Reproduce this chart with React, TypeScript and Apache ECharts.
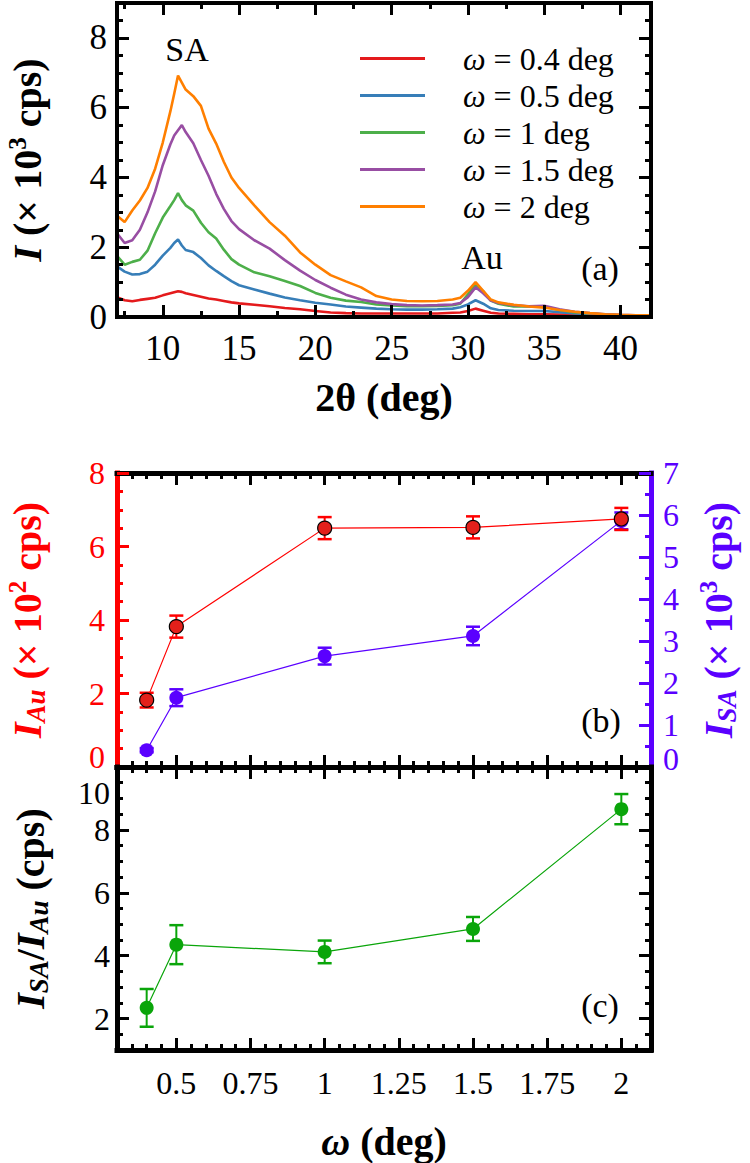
import React, { useEffect, useRef } from 'react';
import * as echarts from 'echarts';

const FONT = "'Liberation Serif', serif";

// ---------- Panel (a): XRD intensity, I (x10^3 cps) vs 2theta (deg) ----------
const twoTheta = [7, 7.5, 8, 8.5, 9, 9.5, 10, 10.5, 10.75, 11, 11.25, 11.5, 12, 12.5, 13, 13.5, 14, 14.5, 15, 16, 17, 18, 19, 20, 21, 22, 23, 24, 25, 26, 27, 28, 29, 29.5, 30, 30.5, 31, 31.5, 32, 33, 34, 35, 36, 37, 38, 39, 40, 41, 42];
const iOmega04 = [0.57, 0.48, 0.45, 0.49, 0.52, 0.55, 0.62, 0.68, 0.71, 0.74, 0.72, 0.68, 0.63, 0.58, 0.53, 0.5, 0.46, 0.42, 0.39, 0.35, 0.31, 0.26, 0.22, 0.17, 0.13, 0.11, 0.1, 0.1, 0.1, 0.1, 0.1, 0.1, 0.12, 0.13, 0.17, 0.24, 0.18, 0.12, 0.1, 0.09, 0.08, 0.08, 0.07, 0.07, 0.06, 0.06, 0.05, 0.05, 0.05];
const iOmega05 = [1.45, 1.3, 1.22, 1.23, 1.3, 1.5, 1.76, 1.98, 2.12, 2.22, 2.05, 1.92, 1.86, 1.69, 1.48, 1.32, 1.17, 1.03, 0.91, 0.79, 0.67, 0.56, 0.48, 0.41, 0.36, 0.3, 0.27, 0.24, 0.22, 0.21, 0.21, 0.22, 0.24, 0.28, 0.36, 0.48, 0.38, 0.25, 0.2, 0.18, 0.17, 0.17, 0.14, 0.1, 0.08, 0.06, 0.05, 0.05, 0.04];
const iOmega1 = [1.75, 1.5, 1.58, 1.64, 1.9, 2.4, 2.85, 3.18, 3.35, 3.55, 3.35, 3.2, 3.05, 2.7, 2.43, 2.25, 1.93, 1.66, 1.5, 1.28, 1.17, 1.03, 0.89, 0.69, 0.55, 0.47, 0.43, 0.36, 0.33, 0.31, 0.31, 0.32, 0.34, 0.38, 0.65, 0.93, 0.74, 0.47, 0.38, 0.3, 0.3, 0.3, 0.2, 0.13, 0.1, 0.07, 0.05, 0.05, 0.04];
const iOmega15 = [2.4, 2.12, 2.2, 2.5, 3.0, 3.6, 4.35, 4.95, 5.2, 5.35, 5.5, 5.3, 4.98, 4.5, 4.05, 3.53, 3.1, 2.75, 2.52, 2.2, 1.96, 1.63, 1.33, 1.06, 0.84, 0.64, 0.5, 0.42, 0.37, 0.34, 0.33, 0.34, 0.36, 0.4, 0.57, 0.85, 0.68, 0.47, 0.4, 0.34, 0.31, 0.32, 0.22, 0.15, 0.11, 0.08, 0.06, 0.05, 0.05];
const iOmega2 = [2.9, 2.72, 3.05, 3.34, 3.7, 4.25, 5.0, 5.9, 6.4, 6.92, 6.72, 6.52, 6.33, 6.05, 5.4, 4.97, 4.45, 4.0, 3.7, 3.2, 2.72, 2.33, 1.85, 1.5, 1.2, 1.02, 0.85, 0.6, 0.5, 0.46, 0.45, 0.46, 0.5, 0.55, 0.75, 1.0, 0.75, 0.5, 0.42, 0.35, 0.3, 0.27, 0.2, 0.15, 0.11, 0.08, 0.06, 0.05, 0.05];
const seriesNames = ['ω = 0.4 deg', 'ω = 0.5 deg', 'ω = 1 deg', 'ω = 1.5 deg', 'ω = 2 deg'];
const seriesColors = ['#e41a1c', '#377eb8', '#4daf4a', '#984ea3', '#ff7f00'];
const seriesValues = [iOmega04, iOmega05, iOmega1, iOmega15, iOmega2];

// ---------- Panels (b) and (c) ----------
const omega = [0.4, 0.5, 1, 1.5, 2];
const iAu = [1.82, 3.82, 6.5, 6.52, 6.75]; // x10^2 cps
const iAuErr = [0.2, 0.3, 0.3, 0.3, 0.3];
const iSA = [0.4, 1.65, 2.64, 3.12, 5.86]; // x10^3 cps
const iSAErr = [0.05, 0.2, 0.2, 0.22, 0.2];
const ratio = [2.34, 4.35, 4.12, 4.85, 8.66];
const ratioErr = [0.6, 0.62, 0.36, 0.38, 0.48];

// ---------- Tick values ----------
const aXMajor = [10, 15, 20, 25, 30, 35, 40];
const aXMinor = [7.5, 12.5, 17.5, 22.5, 27.5, 32.5, 37.5];
const aYMajor = [0, 2, 4, 6, 8];
const aYMinor = [0.5, 1, 1.5, 2.5, 3, 3.5, 4.5, 5, 5.5, 6.5, 7, 7.5, 8.5];
const bcXMajor = [0.5, 0.75, 1, 1.25, 1.5, 1.75, 2];
const bcXMinor = [0.35, 0.4, 0.45, 0.55, 0.6, 0.65, 0.7, 0.8, 0.85, 0.9, 0.95, 1.05, 1.1, 1.15, 1.2, 1.3, 1.35, 1.4, 1.45, 1.55, 1.6, 1.65, 1.7, 1.8, 1.85, 1.9, 1.95, 2.05];
const bLeftMajor = [0, 2, 4, 6, 8];
const bLeftMinor = [0.5, 1, 1.5, 2.5, 3, 3.5, 4.5, 5, 5.5, 6.5, 7, 7.5];
const bRightMajor = [0, 1, 2, 3, 4, 5, 6, 7];
const bRightMinor = [0.5, 1.5, 2.5, 3.5, 4.5, 5.5, 6.5];
const cYMajor = [2, 4, 6, 8, 10];
const cYMinor = [1.5, 2.5, 3, 3.5, 4.5, 5, 5.5, 6.5, 7, 7.5, 8.5, 9, 9.5];

const RED = '#ff0000';
const RED_FILL = '#e3201b';
const BLUE = '#5a00ff';
const GREEN = '#0aa50a';

function nameStyle(color: string, lh = 44) {
  return {
    color,
    fontFamily: FONT,
    fontSize: 40,
    fontWeight: 'bold',
    lineHeight: lh,
    rich: {
      bi: { color, fontFamily: FONT, fontSize: 40, fontWeight: 'bold', fontStyle: 'italic', lineHeight: lh },
      n: { color, fontFamily: FONT, fontSize: 40, fontWeight: 'bold', lineHeight: lh },
      sup: { color, fontFamily: FONT, fontSize: 25, fontWeight: 'bold', verticalAlign: 'top', lineHeight: 25 },
      sub: { color, fontFamily: FONT, fontSize: 27, fontWeight: 'bold', fontStyle: 'italic', verticalAlign: 'bottom', lineHeight: 27 },
    },
  };
}

type AxOpt = {
  grid: number;
  pos: string;
  min: number;
  max: number;
  ticks: number[];
  len: number;
  color?: string;
  line?: boolean;
  lineWidth?: number;
  labels?: any;
  name?: string;
  nameGap?: number;
  nameStyleObj?: any;
};

function axis(o: AxOpt) {
  const color = o.color || '#000';
  return {
    type: 'value',
    gridIndex: o.grid,
    position: o.pos,
    min: o.min,
    max: o.max,
    axisLine: { show: !!o.line, onZero: false, lineStyle: { color, width: o.lineWidth || 4, cap: 'square' } },
    axisTick: { show: true, inside: true, length: o.len, customValues: o.ticks, lineStyle: { color, width: 3 } },
    axisLabel: o.labels ? { show: true, ...o.labels } : { show: false },
    minorTick: { show: false },
    splitLine: { show: false },
    name: o.name || '',
    nameLocation: 'middle',
    nameGap: o.nameGap ?? 15,
    nameTextStyle: o.nameStyleObj,
    nameMoveOverlap: false,
    silent: true,
    z: 5,
  };
}

function errorBars(name: string, xs: number[], ys: number[], es: number[], color: string, xi: number, yi: number) {
  return {
    type: 'custom',
    name,
    xAxisIndex: xi,
    yAxisIndex: yi,
    silent: true,
    z: 2,
    encode: { x: 0, y: 1 },
    data: xs.map((x, i) => [x, ys[i], es[i]]),
    renderItem: (_params: any, api: any) => {
      const x = api.value(0);
      const y = api.value(1);
      const e = api.value(2);
      const hi = api.coord([x, y + e]);
      const lo = api.coord([x, y - e]);
      const w = 7;
      return {
        type: 'group',
        children: [
          { type: 'line', shape: { x1: hi[0], y1: hi[1], x2: lo[0], y2: lo[1] }, style: { stroke: color, lineWidth: 2 } },
          { type: 'line', shape: { x1: hi[0] - w, y1: hi[1], x2: hi[0] + w, y2: hi[1] }, style: { stroke: color, lineWidth: 2.5 } },
          { type: 'line', shape: { x1: lo[0] - w, y1: lo[1], x2: lo[0] + w, y2: lo[1] }, style: { stroke: color, lineWidth: 2.5 } },
        ],
      };
    },
  };
}

function buildOption() {
  const tickLabel = (size: number, color: string, margin: number, values: number[], extra: any = {}) => ({
    customValues: values,
    color,
    fontFamily: FONT,
    fontSize: size,
    margin,
    ...extra,
  });

  const xAxes = [
    // panel a (0-3)
    axis({ grid: 0, pos: 'bottom', min: 7, max: 42, ticks: aXMajor, len: 12, line: true, lineWidth: 4,
      labels: tickLabel(35, '#000', 14, aXMajor), name: '2θ (deg)', nameGap: 58,
      nameStyleObj: { color: '#000', fontFamily: FONT, fontSize: 40, fontWeight: 'bold', lineHeight: 44 } }),
    axis({ grid: 0, pos: 'bottom', min: 7, max: 42, ticks: aXMinor, len: 6 }),
    axis({ grid: 0, pos: 'top', min: 7, max: 42, ticks: aXMajor, len: 12, line: true, lineWidth: 4 }),
    axis({ grid: 0, pos: 'top', min: 7, max: 42, ticks: aXMinor, len: 6 }),
    // panel b (4-7)
    axis({ grid: 1, pos: 'bottom', min: 0.3, max: 2.1, ticks: bcXMajor, len: 12, line: true, lineWidth: 5 }),
    axis({ grid: 1, pos: 'bottom', min: 0.3, max: 2.1, ticks: bcXMinor, len: 6 }),
    axis({ grid: 1, pos: 'top', min: 0.3, max: 2.1, ticks: bcXMajor, len: 12, line: true, lineWidth: 5 }),
    axis({ grid: 1, pos: 'top', min: 0.3, max: 2.1, ticks: bcXMinor, len: 6 }),
    // panel c (8-11)
    axis({ grid: 2, pos: 'bottom', min: 0.3, max: 2.1, ticks: bcXMajor, len: 12, line: true, lineWidth: 5,
      labels: tickLabel(32, '#000', 17, bcXMajor), name: '{bi|ω}{n| (deg)}', nameGap: 72, nameStyleObj: nameStyle('#000', 38) }),
    axis({ grid: 2, pos: 'bottom', min: 0.3, max: 2.1, ticks: bcXMinor, len: 6 }),
    axis({ grid: 2, pos: 'top', min: 0.3, max: 2.1, ticks: bcXMajor, len: 12, line: true, lineWidth: 5 }),
    axis({ grid: 2, pos: 'top', min: 0.3, max: 2.1, ticks: bcXMinor, len: 6 }),
  ];

  const yAxes = [
    // panel a (0-3)
    axis({ grid: 0, pos: 'left', min: 0, max: 9, ticks: aYMajor, len: 12, line: true, lineWidth: 4,
      labels: tickLabel(35, '#000', 10, aYMajor), name: '{bi|I}{n| (× 10}{sup|3}{n| cps)}', nameGap: 68, nameStyleObj: nameStyle('#000') }),
    axis({ grid: 0, pos: 'left', min: 0, max: 9, ticks: aYMinor, len: 6 }),
    axis({ grid: 0, pos: 'right', min: 0, max: 9, ticks: aYMajor, len: 12, line: true, lineWidth: 4 }),
    axis({ grid: 0, pos: 'right', min: 0, max: 9, ticks: aYMinor, len: 6 }),
    // panel b (4-7)
    axis({ grid: 1, pos: 'left', min: 0, max: 8, ticks: bLeftMajor, len: 12, color: RED, line: true, lineWidth: 5,
      labels: tickLabel(32, RED, 12, bLeftMajor, {
        formatter: (v: number) => (v === 0 ? '{z|0}' : String(v)),
        rich: { z: { color: RED, fontFamily: FONT, fontSize: 32, padding: [0, 0, 20, 0] } },
      }),
      name: '{bi|I}{sub|Au}{n| (× 10}{sup|2}{n| cps)}', nameGap: 68, nameStyleObj: nameStyle(RED) }),
    axis({ grid: 1, pos: 'left', min: 0, max: 8, ticks: bLeftMinor, len: 6, color: RED }),
    axis({ grid: 1, pos: 'right', min: 0, max: 7, ticks: bRightMajor, len: 12, color: BLUE, line: true, lineWidth: 5,
      labels: tickLabel(32, BLUE, 12, bRightMajor, {
        formatter: (v: number) => (v === 0 ? '{z|0}' : String(v)),
        rich: { z: { color: BLUE, fontFamily: FONT, fontSize: 32, padding: [0, 0, 16, 0] } },
      }),
      name: '{bi|I}{sub|SA}{n| (× 10}{sup|3}{n| cps)}', nameGap: 45, nameStyleObj: nameStyle(BLUE) }),
    axis({ grid: 1, pos: 'right', min: 0, max: 7, ticks: bRightMinor, len: 6, color: BLUE }),
    // panel c (8-11)
    axis({ grid: 2, pos: 'left', min: 1, max: 10, ticks: cYMajor, len: 12, line: true, lineWidth: 5,
      labels: tickLabel(32, '#000', 7, cYMajor, {
        formatter: (v: number) => (v === 10 ? '{t|10}' : String(v)),
        rich: { t: { color: '#000', fontFamily: FONT, fontSize: 32, padding: [52, 0, 0, 0] } },
      }),
      name: '{bi|I}{sub|SA}{n|/}{bi|I}{sub|Au}{n| (cps)}', nameGap: 65, nameStyleObj: nameStyle('#000') }),
    axis({ grid: 2, pos: 'left', min: 1, max: 10, ticks: cYMinor, len: 6 }),
    axis({ grid: 2, pos: 'right', min: 1, max: 10, ticks: cYMajor, len: 12, line: true, lineWidth: 5 }),
    axis({ grid: 2, pos: 'right', min: 1, max: 10, ticks: cYMinor, len: 6 }),
  ];

  const xrdSeries = seriesNames.map((name, s) => ({
    type: 'line',
    name,
    xAxisIndex: 0,
    yAxisIndex: 0,
    data: twoTheta.map((x, i) => [x, seriesValues[s][i]]),
    showSymbol: false,
    symbol: 'none',
    lineStyle: { color: seriesColors[s], width: 2.6 },
    itemStyle: { color: seriesColors[s] },
    z: 3,
    silent: true,
  }));

  const series: any[] = [
    ...xrdSeries,
    errorBars('err SA', omega, iSA, iSAErr, BLUE, 4, 6),
    errorBars('err Au', omega, iAu, iAuErr, RED, 4, 4),
    {
      type: 'line', name: 'I_SA', xAxisIndex: 4, yAxisIndex: 6,
      data: omega.map((x, i) => [x, iSA[i]]),
      symbol: 'circle', symbolSize: 14, showSymbol: true,
      lineStyle: { color: BLUE, width: 1.2 }, itemStyle: { color: BLUE }, z: 3, silent: true,
    },
    {
      type: 'line', name: 'I_Au', xAxisIndex: 4, yAxisIndex: 4,
      data: omega.map((x, i) => [x, iAu[i]]),
      symbol: 'circle', symbolSize: 14, showSymbol: true,
      lineStyle: { color: RED, width: 1.2 }, itemStyle: { color: RED_FILL, borderColor: '#000', borderWidth: 1.2 }, z: 3, silent: true,
    },
    errorBars('err ratio', omega, ratio, ratioErr, GREEN, 8, 8),
    {
      type: 'line', name: 'ratio', xAxisIndex: 8, yAxisIndex: 8,
      data: omega.map((x, i) => [x, ratio[i]]),
      symbol: 'circle', symbolSize: 14, showSymbol: true,
      lineStyle: { color: GREEN, width: 1.2 }, itemStyle: { color: GREEN }, z: 3, silent: true,
    },
  ];

  const txt = (text: string, x: number, y: number, size = 34) => ({
    type: 'text',
    x,
    y,
    silent: true,
    style: { text, fill: '#000', fontFamily: FONT, fontSize: size, align: 'center', verticalAlign: 'middle' },
    z: 10,
  });

  return {
    animation: false,
    backgroundColor: '#fff',
    textStyle: { fontFamily: FONT },
    grid: [
      { left: 117, top: 3, width: 534, height: 314, outerBoundsMode: 'none', containLabel: false },
      { left: 117, top: 473, width: 534, height: 294, outerBoundsMode: 'none', containLabel: false },
      { left: 117, top: 767, width: 534, height: 283, outerBoundsMode: 'none', containLabel: false },
    ],
    xAxis: xAxes,
    yAxis: yAxes,
    legend: {
      data: seriesNames.map((n) => ({ name: n, icon: 'rect' })),
      orient: 'vertical',
      left: 360,
      top: 40,
      itemWidth: 65,
      itemHeight: 3,
      itemGap: 0,
      padding: 0,
      selectedMode: false,
      formatter: (n: string) => `{sp|}{w|ω}{t|${n.slice(1)}}`,
      textStyle: {
        fontFamily: FONT,
        fontSize: 32,
        color: '#000',
        lineHeight: 37,
        rich: {
          sp: { width: 33 },
          w: { fontFamily: FONT, fontSize: 32, fontStyle: 'italic', color: '#000', lineHeight: 37 },
          t: { fontFamily: FONT, fontSize: 32, color: '#000', lineHeight: 37 },
        },
      },
    },
    graphic: {
      elements: [
        txt('SA', 187, 49),
        txt('Au', 482, 257),
        txt('(a)', 600, 268),
        txt('(b)', 601, 720),
        txt('(c)', 600, 1005),
      ],
    },
    series,
  };
}

export default function App() {
  const ref = useRef<HTMLDivElement>(null);
  useEffect(() => {
    document.body.style.margin = '0';
    const chart = echarts.init(ref.current as HTMLDivElement, null, { renderer: 'svg' });
    chart.setOption(buildOption() as any);
    return () => {
      chart.dispose();
    };
  }, []);
  return <div ref={ref} style={{ width: 750, height: 1163 }} />;
}
